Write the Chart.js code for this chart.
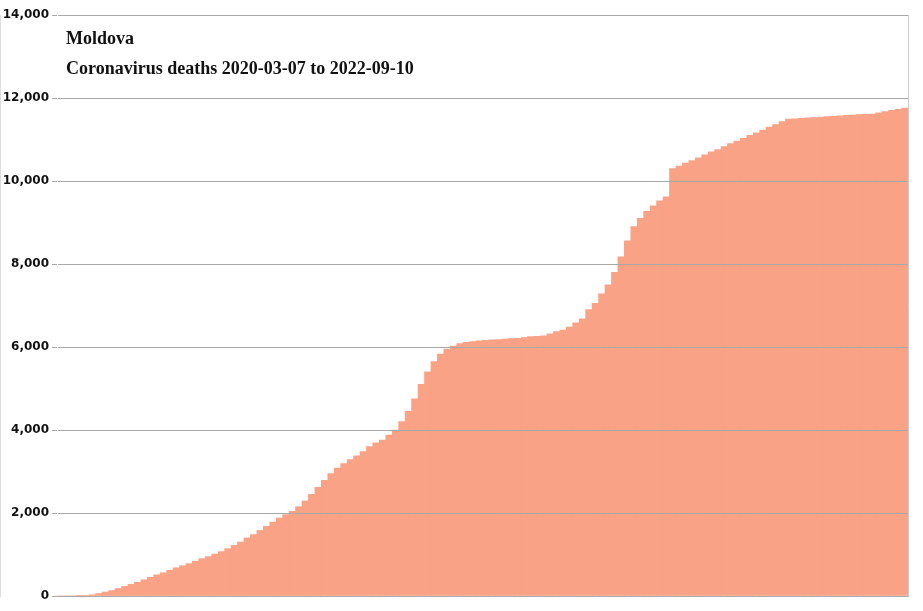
<!DOCTYPE html>
<html><head><meta charset="utf-8">
<script src="https://cdn.jsdelivr.net/npm/chart.js@4"></script>
<style>html,body{margin:0;padding:0;background:#fff}#w{width:923px;height:611px}</style>
</head><body><div id="w"><canvas id="c"></canvas></div>
<script>
const titleLines = ["Moldova", "Coronavirus deaths 2020-03-07 to 2022-09-10"];
const yTicks = [0,2000,4000,6000,8000,10000,12000,14000];
// weekly cumulative deaths, week starting 2020-03-07
const deaths = [0,0,0,1,15,30,60,95,130,180,230,280,330,390,450,510,560,620,680,730,780,840,900,950,1010,1070,1140,1220,1300,1400,1480,1580,1680,1780,1880,1960,2040,2150,2290,2450,2620,2790,2950,3080,3190,3290,3380,3480,3600,3690,3760,3880,4000,4200,4450,4750,5100,5400,5650,5830,5950,6020,6080,6110,6130,6150,6160,6170,6180,6190,6200,6210,6230,6250,6260,6270,6320,6370,6410,6480,6580,6680,6900,7050,7280,7500,7800,8170,8560,8900,9100,9270,9400,9520,9620,10300,10360,10430,10490,10560,10630,10700,10760,10830,10900,10960,11030,11100,11160,11230,11300,11360,11430,11490,11500,11510,11520,11530,11540,11550,11560,11570,11580,11590,11600,11605,11610,11640,11670,11700,11730,11760];
const weeks = deaths.map((_, i) => "W" + (i + 1));

const titlePlugin = {
  id: 'tp',
  afterDatasetsDraw(ch) {
    const c = ch.ctx, a = ch.chartArea;
    c.save();
    c.fillStyle = '#111';
    c.font = 'bold 18px "Liberation Serif", "DejaVu Serif", serif';
    c.textBaseline = 'alphabetic';
    c.fillText(titleLines[0], a.left + 9, a.top + 29);
    c.fillText(titleLines[1], a.left + 9, a.top + 59);
    c.restore();
  }
};

new Chart(document.getElementById('c'), {
  type: 'bar',
  data: { labels: weeks, datasets: [{ data: deaths, backgroundColor: '#f9a285', borderWidth: 0, barPercentage: 1, categoryPercentage: 1 }] },
  options: {
    responsive: true, maintainAspectRatio: false, animation: false,
    layout: { padding: { top: 15, right: 15, bottom: 15, left: 0 } },
    plugins: { legend: { display: false }, tooltip: { enabled: false } },
    scales: {
      x: { grid: { display: false, drawTicks: false }, ticks: { display: false }, border: { color: '#bbb' } },
      y: {
        min: 0, max: 14000,
        afterBuildTicks: s => { s.ticks = yTicks.map(v => ({ value: v })); },
        afterFit: s => { s.width = 57; },
        grid: { color: '#a8a8a8', drawTicks: true, tickLength: 5, z: 1 },
        border: { color: '#bbb' },
        ticks: { color: '#111', font: { family: '"DejaVu Sans", sans-serif', size: 12, weight: 'bold' }, padding: 3,
          callback: v => v.toLocaleString('en-US') }
      }
    }
  },
  plugins: [titlePlugin, {
    id: 'rb', afterDraw(ch) { const c = ch.ctx, a = ch.chartArea; c.save(); c.strokeStyle = '#ccc'; c.beginPath(); c.moveTo(a.right + .5, a.top); c.lineTo(a.right + .5, a.bottom); c.stroke(); c.restore(); }
  }]
});
</script></body></html>
